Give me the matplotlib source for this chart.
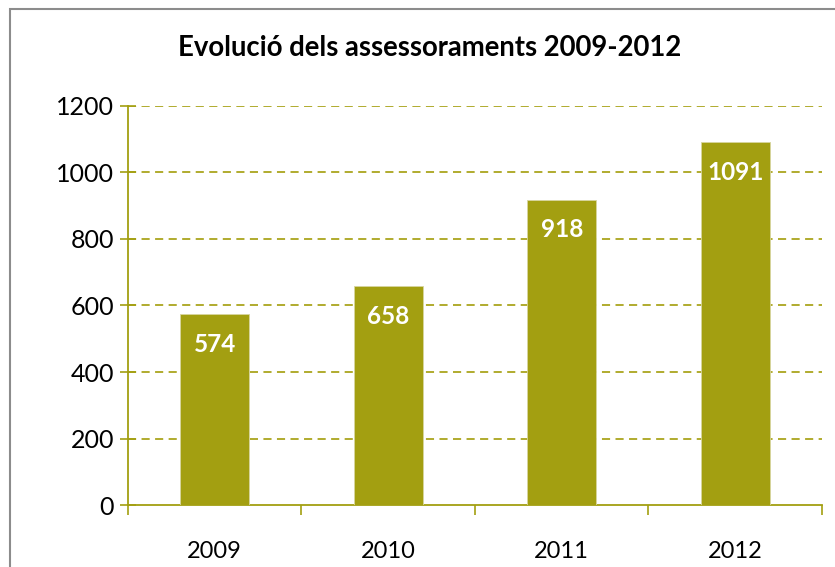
import matplotlib
matplotlib.use('Agg')
import matplotlib.pyplot as plt
from matplotlib.patches import Rectangle

years = ['2009', '2010', '2011', '2012']
values = [574, 658, 918, 1091]
y_ticks = [0, 200, 400, 600, 800, 1000, 1200]

olive = '#a39f11'
grid_col = '#aaa51e'

plt.rcParams['font.family'] = ['Lato', 'DejaVu Sans']

fig = plt.figure(figsize=(8.35, 5.67), dpi=100)
ax = fig.add_axes([0.1533, 0.1093, 0.8311, 0.7038])

x = range(len(years))
ax.bar(x, values, width=0.4, color=olive, edgecolor='#d8d6a0', linewidth=0.6, zorder=3)

for i, v in enumerate(values):
    ax.annotate(str(v), (i, v), xytext=(0, -30), textcoords='offset pixels',
                ha='center', va='center', color='white', fontsize=17.5,
                fontweight='bold', zorder=4)

ax.set_ylim(0, 1200)
ax.set_xlim(-0.5, len(years) - 0.5)
ax.set_yticks(y_ticks)
ax.set_yticklabels([str(t) for t in y_ticks], fontsize=18)
ax.yaxis.grid(True, linestyle=(0, (4.5, 3)), color=grid_col, linewidth=1.3, zorder=1)
for line in ax.get_ygridlines()[:1]:
    line.set_visible(False)

ax.set_xticks(list(x))
ax.set_xticklabels(years, fontsize=17)
ax.set_xticks([i - 0.5 for i in range(len(years) + 1)], minor=True)
ax.tick_params(axis='x', which='major', length=0, pad=26)
ax.tick_params(axis='x', which='minor', length=7, width=1.2, color=olive, direction='out')
ax.tick_params(axis='y', length=12, width=1.2, color=olive, direction='inout', pad=4)

for side in ['top', 'right']:
    ax.spines[side].set_visible(False)
for side in ['left', 'bottom']:
    ax.spines[side].set_color(olive)
    ax.spines[side].set_linewidth(1.3)

fig.text(430 / 835, 1 - 48 / 567, 'Evolució dels assessoraments 2009-2012',
         ha='center', va='center', fontsize=19.8, fontweight='bold')

# outer frame like the original chart area
fig.patches.append(Rectangle((10 / 835, -0.05), 1.1, 1 - 9 / 567 + 0.05,
                             transform=fig.transFigure, fill=False,
                             edgecolor='#8c8c8c', linewidth=1.5))

fig.savefig('out.png', dpi=100)
